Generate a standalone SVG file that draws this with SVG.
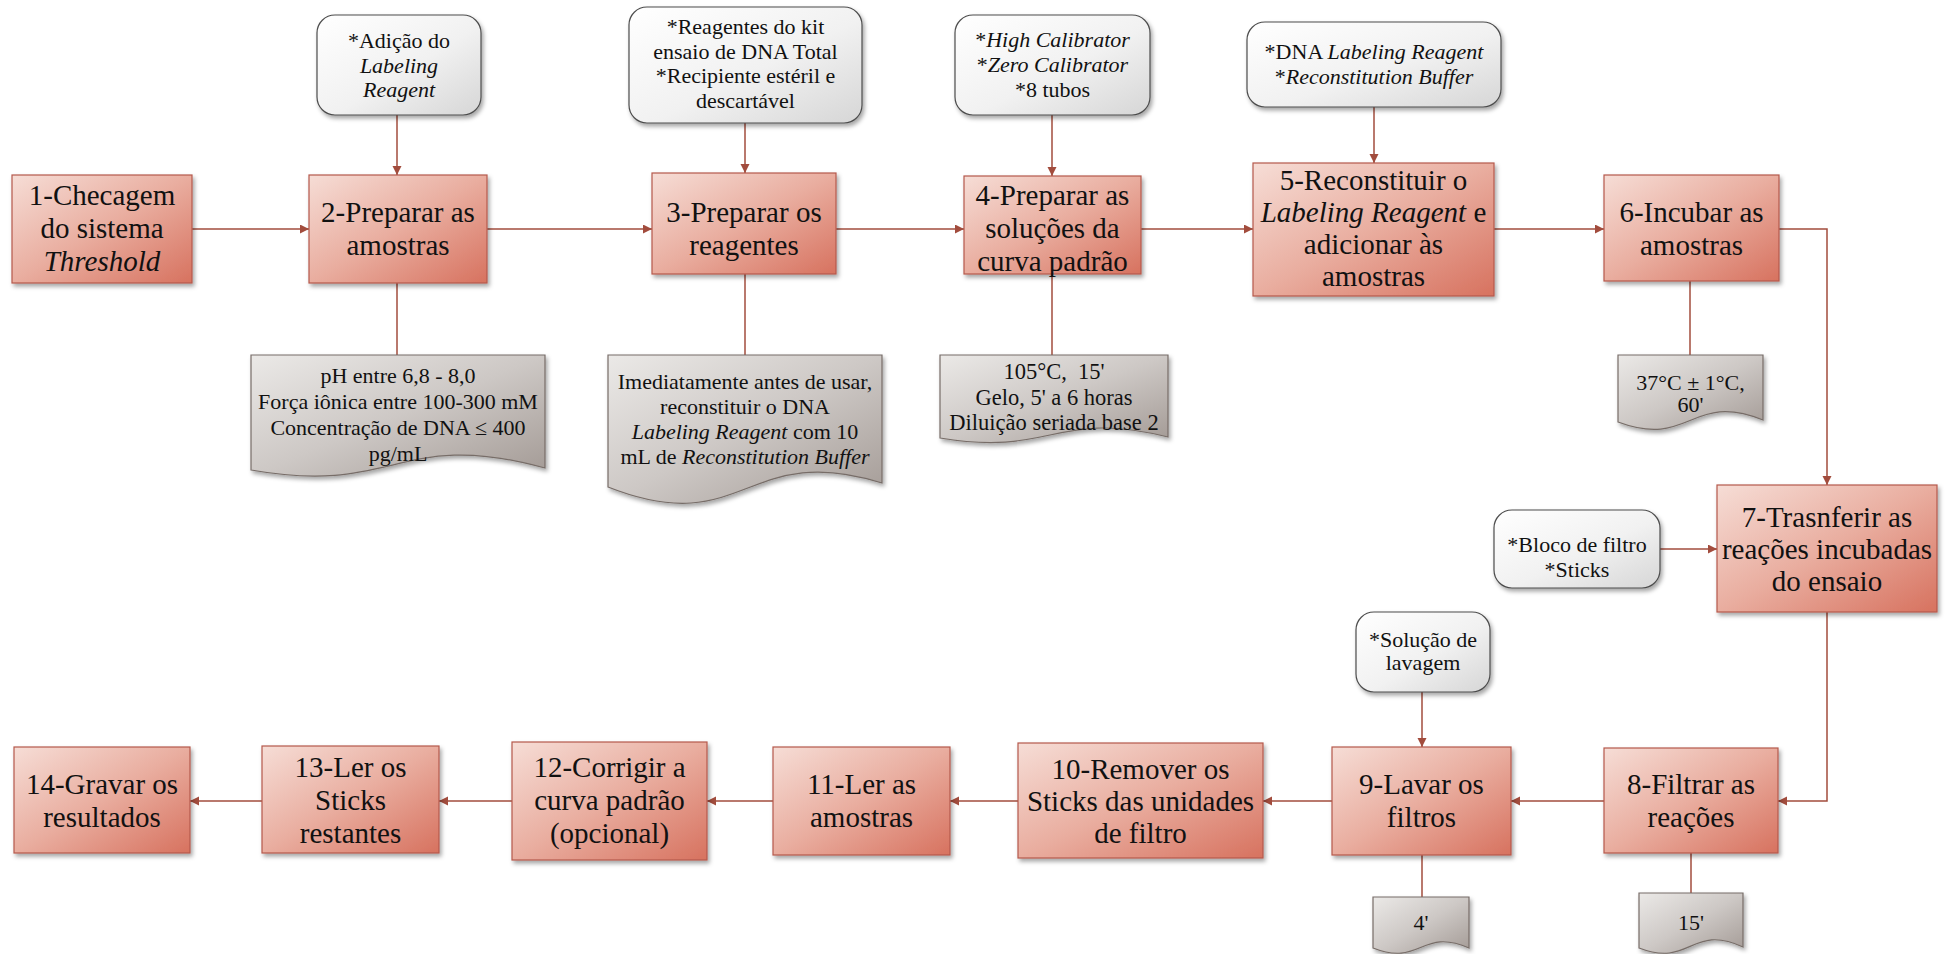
<svg xmlns="http://www.w3.org/2000/svg" width="1946" height="954" viewBox="0 0 1946 954">
  <defs>
    <linearGradient id="gBox" x1="0" y1="0" x2="1" y2="1">
      <stop offset="0" stop-color="#f6ddd6"/>
      <stop offset="0.5" stop-color="#e9ad9f"/>
      <stop offset="1" stop-color="#d7725f"/>
    </linearGradient>
    <linearGradient id="gNote" x1="0" y1="0" x2="1" y2="1">
      <stop offset="0" stop-color="#ffffff"/>
      <stop offset="0.55" stop-color="#f1f1f1"/>
      <stop offset="1" stop-color="#d6d6d6"/>
    </linearGradient>
    <linearGradient id="gDoc" x1="0" y1="0" x2="1" y2="1">
      <stop offset="0" stop-color="#ebe9e7"/>
      <stop offset="0.5" stop-color="#cdc8c5"/>
      <stop offset="1" stop-color="#a39a95"/>
    </linearGradient>
    <filter id="sh" x="-10%" y="-10%" width="125%" height="130%">
      <feDropShadow dx="2" dy="3" stdDeviation="2" flood-color="#000" flood-opacity="0.35"/>
    </filter>
    <marker id="arr" markerUnits="userSpaceOnUse" markerWidth="10" markerHeight="10" refX="9" refY="4.5" orient="auto">
      <path d="M0,0 L9,4.5 L0,9 Z" fill="#a24c3d"/>
    </marker>
    <style>
      .box { fill: url(#gBox); stroke: #b5594b; stroke-width: 1.2; filter: url(#sh); }
      .note { fill: url(#gNote); stroke: #4d4d4d; stroke-width: 1.2; filter: url(#sh); }
      .doc { fill: url(#gDoc); stroke: #776d68; stroke-width: 1.2; filter: url(#sh); }
      .ln { fill: none; stroke: #a24c3d; stroke-width: 1.5; }
      .ar { marker-end: url(#arr); }
      text { font-family: "Liberation Serif", "Times New Roman", serif; fill: #111; text-anchor: middle; }
      .big { font-size: 29px; }
      .sm { font-size: 22px; }
      .it { font-style: italic; }
    </style>
  </defs>

  <rect width="1946" height="954" fill="#ffffff"/>

  <!-- connectors -->
  <g id="connectors">
    <path class="ln ar" d="M192,229 H309"/>
    <path class="ln ar" d="M487,229 H652"/>
    <path class="ln ar" d="M836,229 H964"/>
    <path class="ln ar" d="M1141,229 H1253"/>
    <path class="ln ar" d="M1494,229 H1604"/>
    <path class="ln ar" d="M1779,229 H1827 V485"/>
    <path class="ln ar" d="M1827,612 V801 H1778"/>
    <path class="ln ar" d="M1604,801 H1511"/>
    <path class="ln ar" d="M1332,801 H1263"/>
    <path class="ln ar" d="M1018,801 H950"/>
    <path class="ln ar" d="M773,801 H707"/>
    <path class="ln ar" d="M512,801 H439"/>
    <path class="ln ar" d="M262,801 H190"/>
    <!-- material inputs -->
    <path class="ln ar" d="M397,115 V175"/>
    <path class="ln ar" d="M745,123 V173"/>
    <path class="ln ar" d="M1052,115 V176"/>
    <path class="ln ar" d="M1374,107 V163"/>
    <path class="ln ar" d="M1660,549 H1717"/>
    <path class="ln ar" d="M1422,692 V747"/>
    <!-- condition notes -->
    <path class="ln" d="M397,283 V355"/>
    <path class="ln" d="M745,274 V355"/>
    <path class="ln" d="M1052,274 V355"/>
    <path class="ln" d="M1690,281 V355"/>
    <path class="ln" d="M1691,853 V893"/>
    <path class="ln" d="M1422,855 V897"/>
  </g>

  <!-- process steps -->
  <g id="step1">
    <rect class="box" x="12" y="175" width="180" height="108"/>
    <text class="big"><tspan x="102" y="205">1-Checagem</tspan><tspan x="102" y="238">do sistema</tspan><tspan x="102" y="271" class="it">Threshold</tspan></text>
  </g>
  <g id="step2">
    <rect class="box" x="309" y="175" width="178" height="108"/>
    <text class="big"><tspan x="398" y="221.5">2-Preparar as</tspan><tspan x="398" y="254.5">amostras</tspan></text>
  </g>
  <g id="step3">
    <rect class="box" x="652" y="173" width="184" height="101"/>
    <text class="big"><tspan x="744" y="221.5">3-Preparar os</tspan><tspan x="744" y="254.5">reagentes</tspan></text>
  </g>
  <g id="step4">
    <rect class="box" x="964" y="176" width="177" height="98"/>
    <text class="big"><tspan x="1052.5" y="205">4-Preparar as</tspan><tspan x="1052.5" y="238">soluções da</tspan><tspan x="1052.5" y="271">curva padrão</tspan></text>
  </g>
  <g id="step5">
    <rect class="box" x="1253" y="163" width="241" height="133"/>
    <text class="big"><tspan x="1373.5" y="190">5-Reconstituir o</tspan><tspan x="1373.5" y="222"><tspan class="it">Labeling Reagent</tspan> e</tspan><tspan x="1373.5" y="254">adicionar às</tspan><tspan x="1373.5" y="286">amostras</tspan></text>
  </g>
  <g id="step6">
    <rect class="box" x="1604" y="175" width="175" height="106"/>
    <text class="big"><tspan x="1691.5" y="221.5">6-Incubar as</tspan><tspan x="1691.5" y="254.5">amostras</tspan></text>
  </g>
  <g id="step7">
    <rect class="box" x="1717" y="485" width="220" height="127"/>
    <text class="big"><tspan x="1827" y="527">7-Trasnferir as</tspan><tspan x="1827" y="559">reações incubadas</tspan><tspan x="1827" y="591">do ensaio</tspan></text>
  </g>
  <g id="step8">
    <rect class="box" x="1604" y="748" width="174" height="105"/>
    <text class="big"><tspan x="1691" y="794">8-Filtrar as</tspan><tspan x="1691" y="827">reações</tspan></text>
  </g>
  <g id="step9">
    <rect class="box" x="1332" y="747" width="179" height="108"/>
    <text class="big"><tspan x="1421.5" y="794">9-Lavar os</tspan><tspan x="1421.5" y="827">filtros</tspan></text>
  </g>
  <g id="step10">
    <rect class="box" x="1018" y="743" width="245" height="115"/>
    <text class="big"><tspan x="1140.5" y="779">10-Remover os</tspan><tspan x="1140.5" y="811">Sticks das unidades</tspan><tspan x="1140.5" y="843">de filtro</tspan></text>
  </g>
  <g id="step11">
    <rect class="box" x="773" y="747" width="177" height="108"/>
    <text class="big"><tspan x="861.5" y="794">11-Ler as</tspan><tspan x="861.5" y="827">amostras</tspan></text>
  </g>
  <g id="step12">
    <rect class="box" x="512" y="742" width="195" height="118"/>
    <text class="big"><tspan x="609.5" y="777">12-Corrigir a</tspan><tspan x="609.5" y="810">curva padrão</tspan><tspan x="609.5" y="843">(opcional)</tspan></text>
  </g>
  <g id="step13">
    <rect class="box" x="262" y="746" width="177" height="107"/>
    <text class="big"><tspan x="350.5" y="777">13-Ler os</tspan><tspan x="350.5" y="810">Sticks</tspan><tspan x="350.5" y="843">restantes</tspan></text>
  </g>
  <g id="step14">
    <rect class="box" x="14" y="747" width="176" height="106"/>
    <text class="big"><tspan x="102" y="794">14-Gravar os</tspan><tspan x="102" y="827">resultados</tspan></text>
  </g>

  <!-- materials -->
  <g id="mat2">
    <rect class="note" x="317" y="15" width="164" height="100" rx="18"/>
    <text class="sm"><tspan x="399" y="48">*Adição do</tspan><tspan x="399" y="72.5" class="it">Labeling</tspan><tspan x="399" y="97" class="it">Reagent</tspan></text>
  </g>
  <g id="mat3">
    <rect class="note" x="629" y="7" width="233" height="116" rx="18"/>
    <text class="sm"><tspan x="745.5" y="34">*Reagentes do kit</tspan><tspan x="745.5" y="58.5">ensaio de DNA Total</tspan><tspan x="745.5" y="83">*Recipiente estéril e</tspan><tspan x="745.5" y="107.5">descartável</tspan></text>
  </g>
  <g id="mat4">
    <rect class="note" x="955" y="15" width="195" height="100" rx="18"/>
    <text class="sm"><tspan x="1052.5" y="47">*<tspan class="it">High Calibrator</tspan></tspan><tspan x="1052.5" y="72">*<tspan class="it">Zero Calibrator</tspan></tspan><tspan x="1052.5" y="97">*8 tubos</tspan></text>
  </g>
  <g id="mat5">
    <rect class="note" x="1247" y="22" width="254" height="85" rx="18"/>
    <text class="sm"><tspan x="1374" y="59">*DNA <tspan class="it">Labeling Reagent</tspan></tspan><tspan x="1374" y="84">*<tspan class="it">Reconstitution Buffer</tspan></tspan></text>
  </g>
  <g id="mat7">
    <rect class="note" x="1494" y="510" width="166" height="78" rx="18"/>
    <text class="sm"><tspan x="1577" y="552">*Bloco de filtro</tspan><tspan x="1577" y="577">*Sticks</tspan></text>
  </g>
  <g id="mat9">
    <rect class="note" x="1356" y="612" width="134" height="80" rx="18"/>
    <text class="sm"><tspan x="1423" y="647">*Solução de</tspan><tspan x="1423" y="670">lavagem</tspan></text>
  </g>

  <!-- conditions -->
  <g id="cond2">
    <path class="doc" d="M251,355 H545 V468 C398,428 398,496 251,470 Z"/>
    <text class="sm"><tspan x="398" y="383">pH entre 6,8 - 8,0</tspan><tspan x="398" y="409">Força iônica entre 100-300 mM</tspan><tspan x="398" y="435">Concentração de DNA ≤ 400</tspan><tspan x="398" y="461">pg/mL</tspan></text>
  </g>
  <g id="cond3">
    <path class="doc" d="M608,355 H882 V483 C745,440 745,541 608,487 Z"/>
    <text class="sm"><tspan x="745" y="389">Imediatamente antes de usar,</tspan><tspan x="745" y="414">reconstituir o DNA</tspan><tspan x="745" y="439"><tspan class="it">Labeling Reagent</tspan> com 10</tspan><tspan x="745" y="464">mL de <tspan class="it">Reconstitution Buffer</tspan></tspan></text>
  </g>
  <g id="cond4">
    <path class="doc" d="M940,355 H1168 V437 C1054,409 1054,457 940,438 Z"/>
    <text class="sm" style="font-size:22.5px"><tspan x="1054" y="379" xml:space="preserve">105°C,  15'</tspan><tspan x="1054" y="405">Gelo, 5' a 6 horas</tspan><tspan x="1054" y="430">Diluição seriada base 2</tspan></text>
  </g>
  <g id="cond6">
    <path class="doc" d="M1618,355 H1763 V420 C1690.5,391 1690.5,449 1618,422 Z"/>
    <text class="sm"><tspan x="1690.5" y="390">37°C ± 1°C,</tspan><tspan x="1690.5" y="412">60'</tspan></text>
  </g>
  <g id="cond8">
    <path class="doc" d="M1639,893 H1743 V947 C1691,923 1691,968 1639,948 Z"/>
    <text class="sm"><tspan x="1691" y="930">15'</tspan></text>
  </g>
  <g id="cond9">
    <path class="doc" d="M1373,897 H1469 V948 C1421,927 1421,967 1373,948 Z"/>
    <text class="sm"><tspan x="1421" y="930">4'</tspan></text>
  </g>
</svg>
